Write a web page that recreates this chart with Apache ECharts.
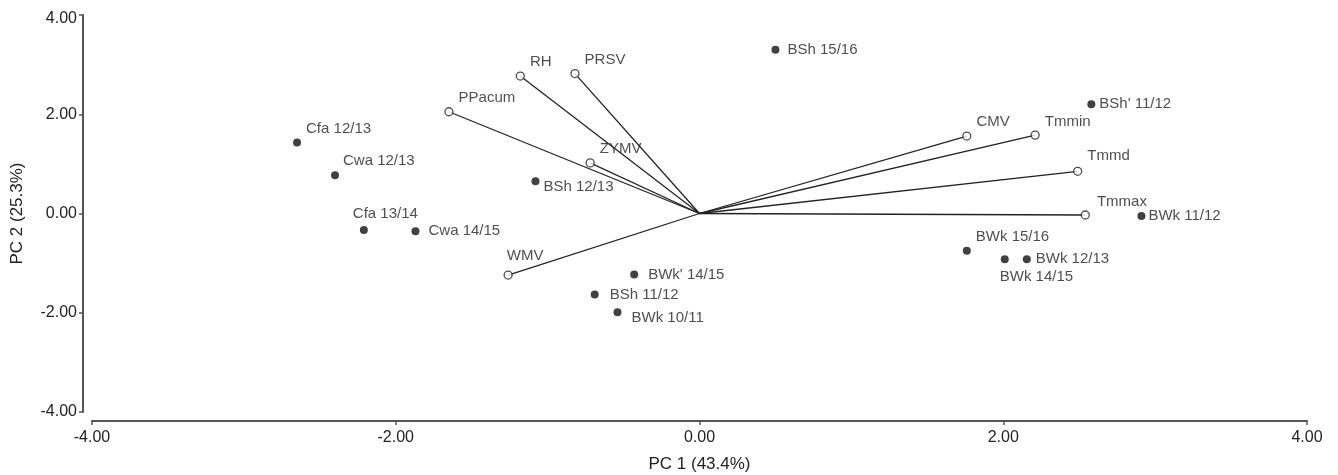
<!DOCTYPE html>
<html>
<head>
<meta charset="utf-8">
<script src="https://cdn.jsdelivr.net/npm/echarts@6/dist/echarts.min.js"></script>
<style>
html,body{margin:0;padding:0;background:#fff;}
#chart{width:1338px;height:475px;}
</style>
</head>
<body>
<div id="chart"></div>
<script>
// Observations (scores)
const pointNames = ['Cfa 12/13','Cwa 12/13','Cfa 13/14','Cwa 14/15','BSh 12/13',"BWk' 14/15",'BSh 11/12','BWk 10/11','BSh 15/16',"BSh' 11/12",'BWk 11/12','BWk 15/16','BWk 14/15','BWk 12/13'];
const pointX = [-2.65,-2.40,-2.21,-1.87,-1.08,-0.43,-0.69,-0.54,0.50,2.58,2.91,1.76,2.01,2.155];
const pointY = [1.43,0.77,-0.33,-0.36,0.65,-1.23,-1.63,-1.99,3.30,2.20,-0.05,-0.75,-0.92,-0.92];

// Variables (loadings)
const vectorNames = ['PPacum','RH','PRSV','ZYMV','WMV','CMV','Tmmin','Tmmd','Tmmax'];
const vectorX = [-1.65,-1.18,-0.82,-0.72,-1.26,1.76,2.21,2.49,2.54];
const vectorY = [2.05,2.77,2.82,1.02,-1.24,1.56,1.58,0.85,-0.03];

// Axis ticks
const tickValues = [-4,-2,0,2,4];

// Label placement (style only)
const pointLabelOffset = {
  'Cfa 12/13':[0,-14],'Cwa 12/13':[-1,-14],'Cfa 13/14':[-20,-16],'Cwa 14/15':[4,-1],
  'BSh 12/13':[-1,6],"BWk' 14/15":[5,0],'BSh 11/12':[6,0],'BWk 10/11':[5,6],
  'BSh 15/16':[3,0],"BSh' 11/12":[-1,0],'BWk 11/12':[-2,0],'BWk 15/16':[0,-14],
  'BWk 14/15':[-14,18],'BWk 12/13':[0,0]
};
const vectorLabelOffset = {'WMV':[-11,-19],'Tmmin':[0,-13],'Tmmd':[0,-15],'Tmmax':[2,-13]};

const FONT = "'Liberation Sans', Arial, sans-serif";
const TXT = '#222';

const chart = echarts.init(document.getElementById('chart'), null, {renderer:'canvas'});

const lineData = vectorNames.map((n,i)=>({coords:[[0,0],[vectorX[i],vectorY[i]]]}));
const vecData = vectorNames.map((n,i)=>({
  name:n, value:[vectorX[i],vectorY[i]],
  label:{offset: vectorLabelOffset[n] || [0,-14]}
}));
const ptData = pointNames.map((n,i)=>({
  name:n, value:[pointX[i],pointY[i]],
  label:{offset: pointLabelOffset[n] || [0,0]}
}));

const axisCommon = {
  type:'value', min:tickValues[0], max:tickValues[tickValues.length-1], interval:2,
  splitLine:{show:false},
  axisLine:{show:true, onZero:false, lineStyle:{color:'#555', width:2}},
  axisTick:{show:true, inside:false, length:4, lineStyle:{color:'#555', width:1.5}},
  axisLabel:{color:TXT, fontFamily:FONT, fontSize:16, formatter:v=>v.toFixed(2)},
  nameLocation:'middle',
  nameTextStyle:{color:TXT, fontFamily:FONT, fontSize:17}
};

chart.setOption({
  animation:false,
  backgroundColor:'#fff',
  grid:{left:92, right:31, top:15, bottom:63, containLabel:false, outerBoundsMode:'none'},
  xAxis:Object.assign({}, axisCommon, {
    name:'PC 1 (43.4%)', nameGap:35, offset:9,
    axisLabel:Object.assign({}, axisCommon.axisLabel, {margin:9})
  }),
  yAxis:Object.assign({}, axisCommon, {
    name:'PC 2 (25.3%)', nameGap:57, offset:9,
    axisLabel:Object.assign({}, axisCommon.axisLabel, {
      margin:6,
      formatter:v=> v===tickValues[tickValues.length-1] ? '{t|'+v.toFixed(2)+'}' : v.toFixed(2),
      rich:{t:{color:TXT, fontFamily:FONT, fontSize:16, padding:[8,0,0,0]}}
    })
  }),
  series:[
    {
      type:'lines', coordinateSystem:'cartesian2d', silent:true,
      lineStyle:{color:'#222', width:1.3, opacity:1},
      data:lineData, z:1
    },
    {
      type:'scatter', symbol:'circle', symbolSize:8,
      itemStyle:{color:'#fff', borderColor:'#222', borderWidth:1.3},
      label:{show:true, position:'right', distance:5, formatter:'{b}', color:TXT, fontFamily:FONT, fontSize:15},
      data:vecData, z:3
    },
    {
      type:'scatter', symbol:'circle', symbolSize:8,
      itemStyle:{color:'#111'},
      label:{show:true, position:'right', distance:5, formatter:'{b}', color:TXT, fontFamily:FONT, fontSize:15},
      data:ptData, z:4
    }
  ]
});
</script>
</body>
</html>
